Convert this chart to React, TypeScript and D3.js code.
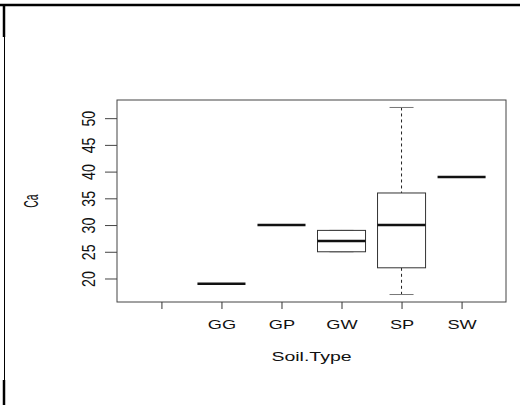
import React, { useEffect, useRef } from 'react'
import { select, scaleLinear, axisLeft, axisBottom } from 'd3'

const categories = ['', 'GG', 'GP', 'GW', 'SP', 'SW']
const lowWhisker = [null, 19, 30, 25, 17, 39]
const q1 = [null, 19, 30, 25, 22, 39]
const median = [null, 19, 30, 27, 30, 39]
const q3 = [null, 19, 30, 29, 36, 39]
const highWhisker = [null, 19, 30, 29, 52, 39]
const yTicks = [20, 25, 30, 35, 40, 45, 50]

function App() {
  const ref = useRef(null)

  useEffect(() => {
    const svg = select(ref.current)
    svg.selectAll('*').remove()

    const left = 117, right = 506, top = 100, bottom = 302
    const font = 'Liberation Sans, Arial, sans-serif'
    const x = scaleLinear().domain([0.26, 6.74]).range([left, right])
    const y = scaleLinear().domain([15.6, 53.4]).range([bottom, top])
    const boxW = (x(1) - x(0)) * 0.8

    // page frame
    svg.append('line').attr('x1', 0).attr('x2', 520).attr('y1', 5).attr('y2', 5)
      .attr('stroke', '#000').attr('stroke-width', 2.5)
    svg.append('line').attr('x1', 4).attr('x2', 4).attr('y1', 5).attr('y2', 37)
      .attr('stroke', '#000').attr('stroke-width', 2.5)
    svg.append('line').attr('x1', 4.5).attr('x2', 4.5).attr('y1', 37).attr('y2', 380)
      .attr('stroke', '#000').attr('stroke-width', 1)
    svg.append('line').attr('x1', 4).attr('x2', 4).attr('y1', 380).attr('y2', 405)
      .attr('stroke', '#000').attr('stroke-width', 2.5)

    // plot box
    svg.append('rect').attr('x', left).attr('y', top)
      .attr('width', right - left).attr('height', bottom - top)
      .attr('fill', 'none').attr('stroke', '#444').attr('stroke-width', 1)

    // y axis
    const yAxis = svg.append('g').attr('transform', `translate(${left - 12},0)`)
      .call(axisLeft(y).tickValues(yTicks).tickSize(0).tickPadding(0))
    yAxis.select('.domain').remove()
    yAxis.selectAll('.tick line').remove()
    yAxis.selectAll('.tick').append('line').attr('x1', 0).attr('x2', 12)
      .attr('stroke', '#444')
    yAxis.selectAll('.tick text')
      .attr('x', 0).attr('dy', 0).attr('y', 0)
      .attr('transform', 'translate(-17,0) scale(1.4,1.1) rotate(-90)')
      .attr('text-anchor', 'middle')
      .attr('dominant-baseline', 'central')
      .style('font-family', font)
      .style('font-size', '13px').attr('fill', '#111')

    // x axis
    const xAxis = svg.append('g').attr('transform', `translate(0,${bottom})`)
      .call(axisBottom(x).tickValues(categories.map((_, i) => i + 1))
        .tickFormat((d) => categories[+d - 1]).tickSize(7).tickPadding(11))
    xAxis.select('.domain').remove()
    xAxis.selectAll('.tick line').attr('stroke', '#333')
    xAxis.selectAll('.tick text')
      .attr('transform', 'scale(1.4,1)')
      .style('font-family', font)
      .style('font-size', '13px').attr('fill', '#111')

    // boxes
    categories.forEach((c, i) => {
      if (median[i] == null) return
      const cx = x(i + 1)
      const g = svg.append('g')
      g.append('line').attr('x1', cx).attr('x2', cx)
        .attr('y1', y(highWhisker[i])).attr('y2', y(q3[i]))
        .attr('stroke', '#222').attr('stroke-dasharray', '3,3')
      g.append('line').attr('x1', cx).attr('x2', cx)
        .attr('y1', y(q1[i])).attr('y2', y(lowWhisker[i]))
        .attr('stroke', '#222').attr('stroke-dasharray', '3,3')
      g.append('line').attr('x1', cx - boxW / 4).attr('x2', cx + boxW / 4)
        .attr('y1', y(highWhisker[i])).attr('y2', y(highWhisker[i]))
        .attr('stroke', '#777')
      g.append('line').attr('x1', cx - boxW / 4).attr('x2', cx + boxW / 4)
        .attr('y1', y(lowWhisker[i])).attr('y2', y(lowWhisker[i]))
        .attr('stroke', '#777')
      g.append('rect').attr('x', cx - boxW / 2).attr('y', y(q3[i]))
        .attr('width', boxW).attr('height', y(q1[i]) - y(q3[i]))
        .attr('fill', '#fff').attr('stroke', '#333').attr('stroke-width', 1)
      g.append('line').attr('x1', cx - boxW / 2).attr('x2', cx + boxW / 2)
        .attr('y1', y(median[i])).attr('y2', y(median[i]))
        .attr('stroke', '#111').attr('stroke-width', 2.5)
    })

    // axis titles
    svg.append('text').attr('transform', `translate(${x(3.5)},361) scale(1.5,1)`)
      .attr('text-anchor', 'middle')
      .style('font-family', font)
      .style('font-size', '13px').attr('fill', '#111')
      .text('Soil.Type')
    svg.append('text').attr('transform', `translate(31,201) scale(1.5,0.8) rotate(-90)`)
      .attr('text-anchor', 'middle')
      .attr('dominant-baseline', 'central')
      .style('font-family', font)
      .style('font-size', '13px').attr('fill', '#111')
      .text('Ca')
  }, [])

  return (
    <svg ref={ref} width={520} height={405}
      style={{ position: 'fixed', left: 0, top: 0, background: '#fff' }} />
  )
}

export default App
